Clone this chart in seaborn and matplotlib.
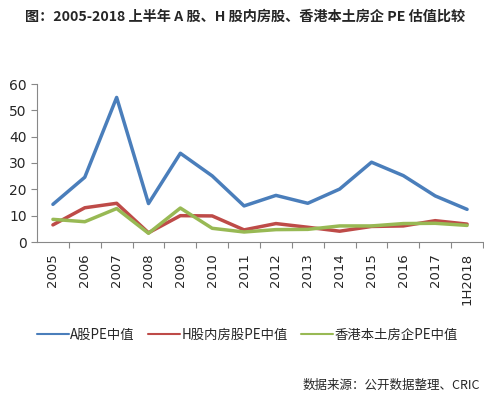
import matplotlib.pyplot as plt
import seaborn as sns
import numpy as np
import pandas as pd

years = ['2005', '2006', '2007', '2008', '2009', '2010', '2011',
         '2012', '2013', '2014', '2015', '2016', '2017', '1H2018']
a_pe = [14.3, 24.6, 54.9, 14.6, 33.7, 25.1, 13.7, 17.7, 14.7, 20.1, 30.3, 25.2, 17.5, 12.4]
h_pe = [6.5, 13.0, 14.7, 3.5, 10.0, 9.9, 4.6, 7.0, 5.6, 4.1, 5.9, 6.1, 8.1, 6.8]
hk_pe = [8.6, 7.7, 12.7, 3.3, 12.9, 5.2, 3.8, 4.7, 4.8, 6.1, 6.1, 7.0, 7.1, 6.3]
names = ['A股PE中值', 'H股内房股PE中值', '香港本土房企PE中值']
colors = ['#4A7EBB', '#BE4B48', '#98B954']

sns.set_style('white')
plt.rcParams['font.family'] = ['Noto Sans CJK SC', 'DejaVu Sans']

df = pd.DataFrame({'x': np.arange(len(years))})
for n, v in zip(names, [a_pe, h_pe, hk_pe]):
    df[n] = v
long = df.melt(id_vars='x', var_name='series', value_name='pe')

fig = plt.figure(figsize=(4.85, 3.99), dpi=100)
ax = fig.add_axes([37 / 485, 1 - 242 / 399, 446 / 485, 158 / 399])
sns.lineplot(data=long, x='x', y='pe', hue='series', palette=colors,
             linewidth=2.5, ax=ax, legend=False)

ax.set_xlim(-0.5, len(years) - 0.5)
ax.set_ylim(0, 60)
ax.set_yticks(range(0, 61, 10))
ax.set_xticks(np.arange(len(years)))
ax.set_xticklabels(years, rotation=90, fontsize=9.5, family='DejaVu Sans')
ax.set_xticks(np.arange(len(years)) + 0.5, minor=True)
ax.tick_params(axis='x', which='major', length=0, pad=8)
ax.tick_params(axis='x', which='minor', length=4, width=0.8, color='#888888', direction='out', bottom=True)
ax.tick_params(axis='y', length=4, width=0.8, color='#888888', direction='out', left=True, labelsize=10)
for lbl in ax.get_yticklabels():
    lbl.set_family('DejaVu Sans')
ax.set_xlabel('')
ax.set_ylabel('')
for s in ['top', 'right']:
    ax.spines[s].set_visible(False)
for s in ['left', 'bottom']:
    ax.spines[s].set_color('#888888')
    ax.spines[s].set_linewidth(0.8)

handles = [plt.Line2D([], [], color=c, linewidth=1.5) for c in colors]
fig.legend(handles, names, loc='center', bbox_to_anchor=(0.51, 1 - 335 / 399), ncol=3,
           frameon=False, fontsize=9.6, handlelength=2.4, handletextpad=0.1, columnspacing=1.0)

fig.text(0.505, 1 - 17 / 399, '图：2005-2018 上半年 A 股、H 股内房股、香港本土房企 PE 估值比较',
         ha='center', va='center', fontsize=10.2, fontweight='bold')
fig.text(480 / 485, 1 - 385 / 399, '数据来源：公开数据整理、CRIC', ha='right', va='center', fontsize=9)

fig.savefig('out.png', dpi=100)
